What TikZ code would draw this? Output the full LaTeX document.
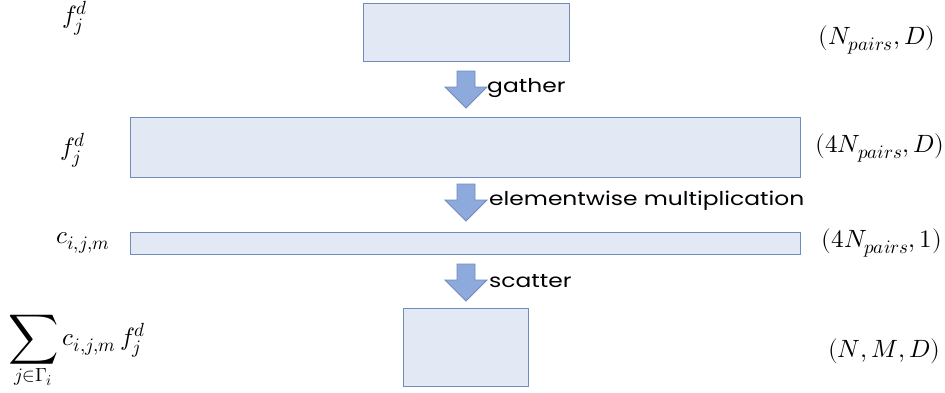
\documentclass[tikz,border=0pt]{standalone}
\usepackage{fontspec}
\usepackage{unicode-math}
\usepackage{graphicx}
\setmainfont{Poppins}
\setmathfont{Latin Modern Math}
\DeclareMathSizes{25}{25}{19}{15}
\newfontfamily\widesans[FakeStretch=1.23]{Poppins}
\usetikzlibrary{positioning}
\definecolor{boxfill}{HTML}{E2E8F4}
\definecolor{boxline}{HTML}{6F8CBF}
\definecolor{arrowfill}{HTML}{8EA9DB}
% a taller summation sign
\newcommand{\bigsum}{\mathop{\vcenter{\hbox{\scalebox{1.4}{$\displaystyle\sum$}}}}\limits}
\tikzset{
  tensor/.style={draw=boxline, fill=boxfill, line width=1pt, inner sep=0pt, anchor=north west},
  steplabel/.style={anchor=west, inner sep=0pt, font=\widesans\fontsize{19}{22}\selectfont},
  mathlabel/.style={inner sep=0pt, font=\fontsize{25}{28}\selectfont},
  blockarrow/.pic={
    \draw[draw=boxline, fill=arrowfill, line width=0.8pt, line join=miter]
      (-9,0) -- (9,0) -- (9,16) -- (21,16) -- (0,37) -- (-21,16) -- (-9,16) -- cycle;
  }
}
\begin{document}
\begin{tikzpicture}[x=1pt, y=-1pt]
  \useasboundingbox (0,0) rectangle (945,392);

  % tensor boxes
  \node[tensor, minimum width=206pt, minimum height=58pt] (pairs) at (363,3) {};
  \node[tensor, minimum width=670pt, minimum height=60pt] (gathered) at (130,117) {};
  \node[tensor, minimum width=670pt, minimum height=22pt] (coef) at (130,232) {};
  \node[tensor, minimum width=125pt, minimum height=78pt] (out) at (403,308) {};

  % operation arrows
  \pic at (466,71) {blockarrow};
  \pic at (466,184) {blockarrow};
  \pic at (466,264) {blockarrow};

  \node[steplabel] (gat) at (487,88) {gather};
  \node[steplabel] (mul) at (489,201) {elementwise multiplication};
  \node[steplabel] (sca) at (489,281) {scatter};

  % left-hand quantities
  \node[mathlabel] (f1) at (75,18) {$f_j^d$};
  \node[mathlabel] (f2) at (73,150) {$f_j^d$};
  \node[mathlabel] (c) at (83,243) {$c_{i,j,m}$};
  \node[mathlabel, anchor=west] (s) at (8,352) {$\displaystyle\bigsum_{j\in\Gamma_i} c_{i,j,m}\, f_j^d$};

  % right-hand shapes
  \node[mathlabel] (d1) at (877,40) {$(N_{pairs},D)$};
  \node[mathlabel] (d2) at (880,148) {$(4N_{pairs},D)$};
  \node[mathlabel] (d3) at (882,243) {$(4N_{pairs},1)$};
  \node[mathlabel] (d4) at (884,351) {$(N,M,D)$};
\end{tikzpicture}
\end{document}
